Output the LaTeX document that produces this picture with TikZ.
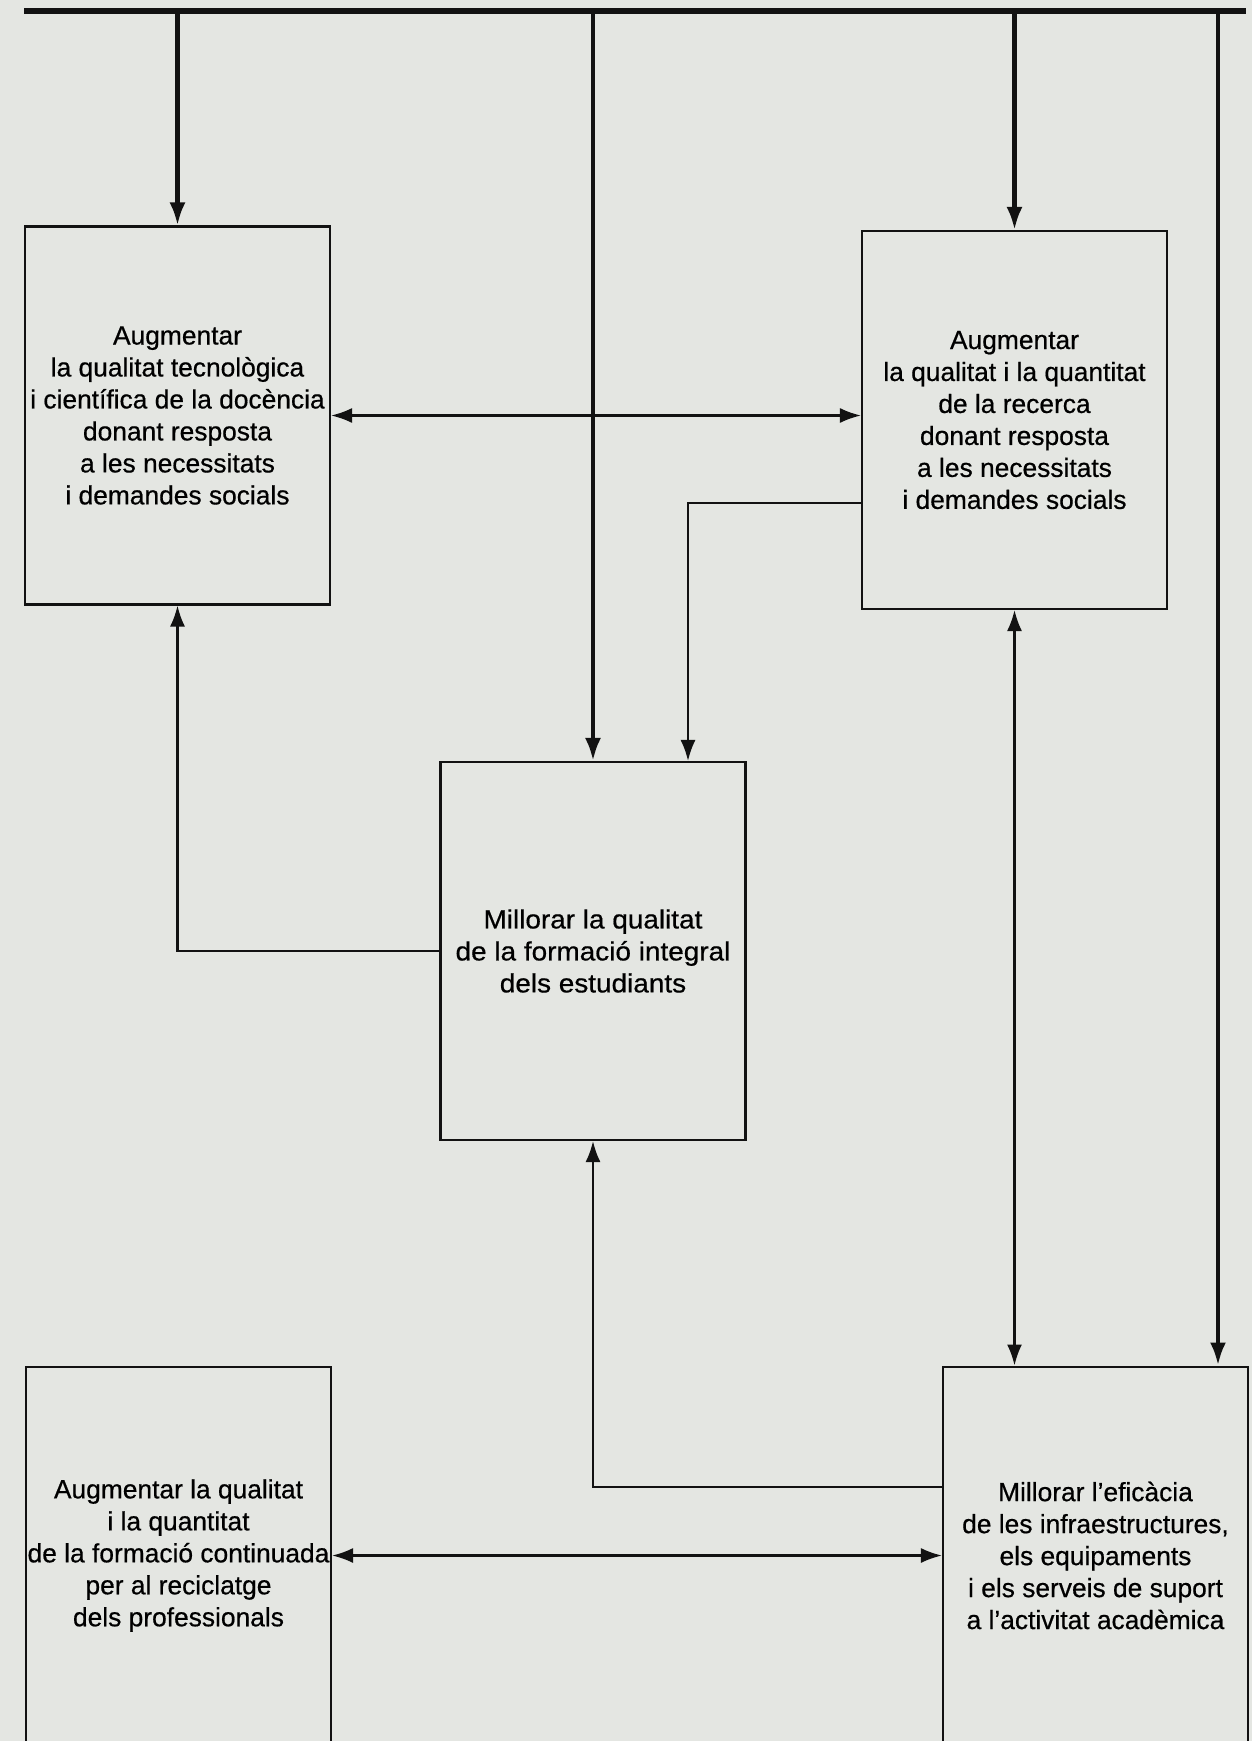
\documentclass[tikz,border=0pt]{standalone}
\usepackage{fontspec}
\setmainfont[FakeBold=0.6]{Liberation Sans}
\newfontfamily\widesans[FakeStretch=1.06,FakeBold=0.6]{Liberation Sans}
\usetikzlibrary{arrows.meta}
\definecolor{paper}{RGB}{228,230,226}
\definecolor{ink}{RGB}{18,18,18}
\tikzstyle{goal}=[draw=ink,line width=1.2pt,minimum width=6.1cm,minimum height=7.56cm,inner sep=0pt,align=center,font=\fontsize{15}{18.2}\selectfont]
\tikzstyle{wide goal}=[goal,font=\widesans\fontsize{15}{18.2}\selectfont]
\tikzstyle{bar}=[draw=ink,line width=3pt]
\tikzstyle{drop}=[draw=ink,line width=2.4pt,-{Latex[length=0.46cm,width=0.32cm]}]
\tikzstyle{link}=[draw=ink,line width=1.3pt,-{Latex[length=0.42cm,width=0.3cm]}]
\tikzstyle{both link}=[link,{Latex[length=0.42cm,width=0.3cm]}-{Latex[length=0.42cm,width=0.3cm]}]

\begin{document}
\begin{tikzpicture}[x=0.02cm,y=-0.02cm]
    \fill[paper] (0,0) rectangle (1252,1741);
    \useasboundingbox (0,0) rectangle (1252,1741);
    \clip (0,0) rectangle (1252,1741);
    % First we draw the goals
    \foreach \pos/\name/\txt in {{(177.5,415.5)/tecno/{Augmentar\\la qualitat tecnològica\\i científica de la docència\\donant resposta\\a les necessitats\\i demandes socials}},
        {(1014.5,420)/recerca/{Augmentar\\la qualitat i la quantitat\\de la recerca\\donant resposta\\a les necessitats\\i demandes socials}},
        {(178.5,1555.5)/continuada/{Augmentar la qualitat\\i la quantitat\\de la formació continuada\\per al reciclatge\\dels professionals}},
        {(1095.5,1555.5)/infra/{Millorar l’eficàcia\\de les infraestructures,\\els equipaments\\i els serveis de suport\\a l’activitat acadèmica}}}
        \node[goal] (\name) at \pos {\txt};

    \node[wide goal] (formacio) at (593,951) {Millorar la qualitat\\de la formació integral\\dels estudiants};

    % The bar on top and its drops
    \coordinate (barL) at (24,11);
    \coordinate (barR) at (1246,11);
    \coordinate (dropD) at (1218,11);
    \path[bar] (barL) -- (barR);
    \foreach \dest in {tecno,formacio,recerca}
        \path[drop] (\dest.north |- barL) -- (\dest.north);
    \path[drop] (dropD) -- (dropD |- infra.north);

    % Connect goals with links
    \coordinate (r2f) at (688,503);
    \coordinate (f2i) at (591,1487);
    \path[both link] (tecno.east) -- (tecno.east -| recerca.west);
    \path[link] (r2f -| recerca.west) -| (r2f |- formacio.north);
    \path[link] (formacio.west) -| (tecno.south);
    \path[link] (f2i -| infra.west) -| (formacio.south);
    \path[both link] (recerca.south) -- (recerca.south |- infra.north);
    \path[both link] (continuada.east) -- (infra.west);
\end{tikzpicture}
\end{document}
